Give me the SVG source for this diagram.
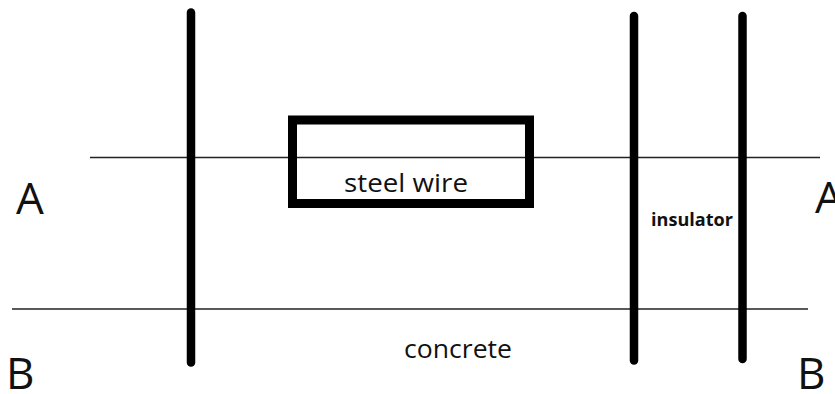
<svg xmlns="http://www.w3.org/2000/svg" width="835" height="394" viewBox="0 0 835 394">
<style>
.thin{stroke:#222;stroke-width:1.6;fill:none}
.thick{stroke:#000;stroke-width:8.5;stroke-linecap:round;fill:none}
.t{font-family:"Open Sans","Noto Sans",sans-serif;fill:#111}
.big{font-size:44px}
</style>
<rect width="835" height="394" fill="#fff"/>
<g id="connectors">
<line class="thin" x1="90" y1="157.5" x2="820" y2="157.5"/>
<line class="thin" x1="12" y1="309" x2="808" y2="309"/>
<line class="thick" x1="191" y1="12.5" x2="191" y2="362.5"/>
<line class="thick" x1="634" y1="16" x2="634" y2="360.5"/>
<line class="thick" x1="742.5" y1="16" x2="742.5" y2="359"/>
</g>
<g id="steel-wire">
<rect x="292.5" y="120" width="237" height="83.5" fill="none" stroke="#000" stroke-width="9"/>
<text class="t" x="344" y="192" font-size="26" textLength="124" lengthAdjust="spacingAndGlyphs">steel wire</text>
</g>
<g id="insulator"><text class="t" x="651" y="226" font-size="17.5" font-weight="700" textLength="82" lengthAdjust="spacingAndGlyphs">insulator</text></g>
<g id="concrete"><text class="t" x="404" y="358" font-size="26" textLength="108" lengthAdjust="spacingAndGlyphs">concrete</text></g>
<g id="labels">
<text class="t big" x="16" y="214">A</text>
<text class="t big" x="815" y="213">A</text>
<text class="t big" x="6" y="389">B</text>
<text class="t big" x="797" y="389">B</text>
</g>
</svg>
